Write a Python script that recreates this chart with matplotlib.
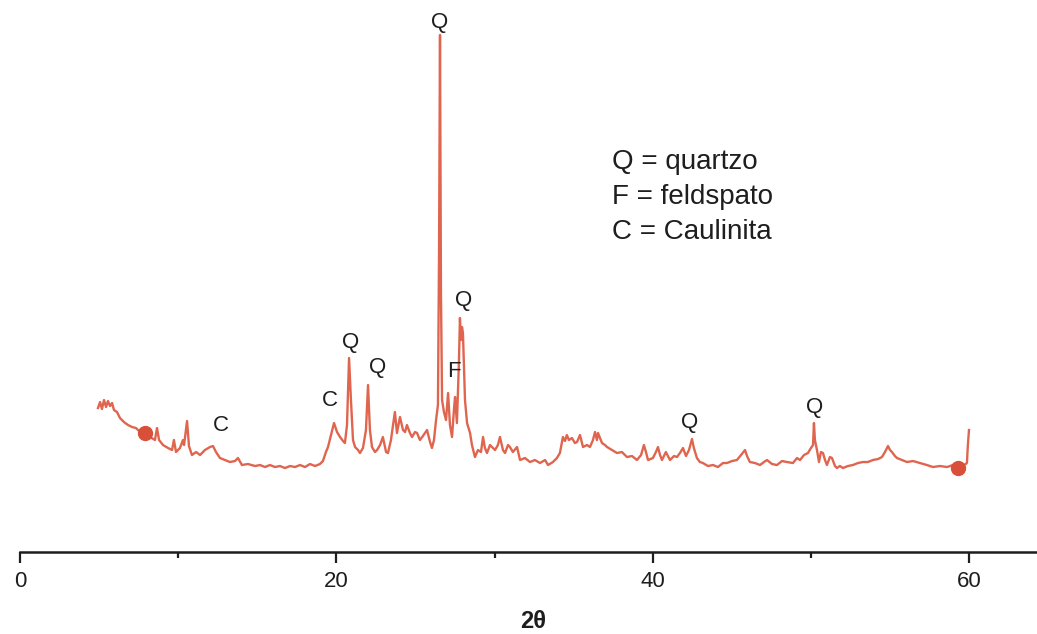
import matplotlib.pyplot as plt
from matplotlib.ticker import MultipleLocator

plt.rcParams['font.family'] = ['Liberation Sans', 'DejaVu Sans']

# 2theta (degrees) and intensity (arbitrary units)
two_theta = [
    4.93, 5.06, 5.18, 5.31, 5.44, 5.56, 5.69, 5.82, 5.94, 6.13, 6.32, 6.57, 6.83, 7.08, 7.33,
    7.59, 7.90, 8.22, 8.53, 8.66, 8.79, 9.04, 9.36, 9.61, 9.73, 9.86, 10.11, 10.30, 10.37, 10.56,
    10.68, 10.87, 11.13, 11.38, 11.69, 12.01, 12.20, 12.39, 12.64, 12.96, 13.27, 13.59, 13.78, 14.03,
    14.41, 14.86, 15.17, 15.49, 15.80, 16.12, 16.43, 16.75, 17.07, 17.38, 17.70, 18.02, 18.33, 18.65,
    18.96, 19.15, 19.34, 19.47, 19.66, 19.85, 20.04, 20.23, 20.42, 20.54, 20.67, 20.80, 20.92, 21.05,
    21.18, 21.37, 21.49, 21.68, 21.87, 22.00, 22.12, 22.25, 22.44, 22.57, 22.76, 22.94, 23.14, 23.26,
    23.45, 23.58, 23.70, 23.83, 24.02, 24.21, 24.34, 24.46, 24.65, 24.78, 24.97, 25.10, 25.28, 25.47,
    25.73, 25.92, 26.04, 26.17, 26.30, 26.42, 26.49, 26.55, 26.61, 26.68, 26.80, 26.93, 27.06, 27.18,
    27.31, 27.43, 27.50, 27.62, 27.75, 27.81, 27.88, 27.94, 28.00, 28.07, 28.13, 28.26, 28.45, 28.57,
    28.76, 28.95, 29.14, 29.27, 29.39, 29.52, 29.71, 29.84, 30.03, 30.21, 30.34, 30.53, 30.66, 30.85,
    30.97, 31.16, 31.42, 31.61, 31.92, 32.24, 32.55, 32.87, 33.19, 33.38, 33.69, 33.94, 34.13, 34.32,
    34.45, 34.57, 34.70, 34.89, 35.08, 35.21, 35.40, 35.59, 35.84, 36.03, 36.22, 36.35, 36.47, 36.54,
    36.79, 36.98, 37.11, 37.42, 37.74, 38.05, 38.37, 38.69, 39.00, 39.26, 39.44, 39.57, 39.70, 40.01,
    40.20, 40.33, 40.46, 40.58, 40.83, 41.09, 41.34, 41.53, 41.72, 41.91, 42.10, 42.29, 42.48, 42.60,
    42.79, 42.98, 43.17, 43.49, 43.81, 44.12, 44.44, 44.69, 45.01, 45.32, 45.58, 45.83, 45.96, 46.14,
    46.46, 46.78, 47.03, 47.22, 47.54, 47.85, 48.17, 48.48, 48.86, 49.12, 49.31, 49.56, 49.81, 50.00,
    50.13, 50.19, 50.25, 50.38, 50.51, 50.63, 50.76, 50.89, 51.01, 51.20, 51.33, 51.52, 51.64, 51.83,
    52.02, 52.34, 52.65, 52.97, 53.29, 53.60, 53.92, 54.24, 54.49, 54.68, 54.87, 55.00, 55.12, 55.31,
    55.44, 55.75, 56.07, 56.45, 56.89, 57.33, 57.71, 58.15, 58.60, 58.98, 59.29, 59.61, 59.86, 59.92,
    59.99,
]
intensity = [
    144, 150, 143, 152, 145, 151, 146, 149, 142, 140, 134, 130, 127, 125, 124,
    120, 119, 115, 112, 124, 112, 107, 104, 102, 112, 100, 104, 112, 107, 131,
    106, 97, 100, 97, 102, 105, 106, 100, 94, 92, 90, 91, 94, 87,
    88, 86, 87, 85, 87, 85, 86, 84, 86, 85, 87, 85, 88, 86,
    88, 91, 100, 105, 117, 129, 120, 115, 111, 109, 127, 194, 152, 112,
    105, 102, 99, 104, 122, 167, 122, 105, 100, 102, 107, 115, 100, 99,
    112, 127, 140, 119, 135, 122, 120, 127, 119, 115, 120, 119, 112, 116,
    122, 110, 104, 112, 132, 147, 300, 517, 260, 152, 140, 132, 159, 127,
    115, 142, 155, 129, 192, 234, 212, 225, 219, 182, 152, 129, 119, 107,
    95, 102, 100, 115, 104, 99, 107, 105, 102, 107, 115, 102, 99, 107,
    105, 100, 105, 92, 94, 90, 92, 89, 92, 87, 90, 94, 99, 115,
    111, 117, 112, 114, 109, 110, 117, 105, 107, 105, 112, 120, 112, 119,
    109, 107, 105, 102, 99, 100, 95, 96, 92, 97, 107, 100, 92, 94,
    100, 105, 97, 92, 100, 92, 96, 95, 99, 104, 96, 102, 113, 104,
    94, 90, 89, 86, 87, 85, 89, 89, 91, 92, 97, 102, 96, 90,
    89, 87, 90, 92, 88, 87, 91, 90, 89, 94, 92, 97, 99, 104,
    107, 129, 112, 102, 90, 100, 99, 92, 87, 95, 94, 86, 84, 86,
    84, 86, 87, 89, 90, 90, 92, 93, 95, 100, 106, 102, 100, 96,
    94, 92, 90, 91, 89, 87, 85, 86, 85, 87, 84, 86, 89, 107,
    122,
]

# round markers sitting on the trace
dot_x = [7.90, 59.29]
dot_y = [119, 84]

# phase labels above the peaks
peak_labels = ['C', 'C', 'Q', 'Q', 'Q', 'F', 'Q', 'Q', 'Q']
label_x = [12.7, 19.6, 20.9, 22.6, 26.55, 27.4, 28.07, 42.35, 50.25]
label_y = [127, 152, 210, 185, 530, 181, 252, 130, 145]

legend_lines = ['Q = quartzo', 'F = feldspato', 'C = Caulinita']

fig = plt.figure(figsize=(10.37, 6.34), dpi=100)
ax = fig.add_axes([0.0193, 0.1293, 0.9807, 0.8707])

ax.plot(two_theta, intensity, color='#e0654f', linewidth=1.7)
ax.plot(dot_x, dot_y, 'o', color='#d9503a', markersize=10)

for lab, lx, ly in zip(peak_labels, label_x, label_y):
    ax.text(lx, ly, lab, ha='center', va='center', fontsize=16, color='#1e1e1e')

for i, line in enumerate(legend_lines):
    ax.text(37.4, 390 - i * 35, line, ha='left', va='center', fontsize=20, color='#1e1e1e')

ax.set_xlim(0, 64.29)
ax.set_ylim(0, 552)

for side in ['top', 'right', 'left']:
    ax.spines[side].set_visible(False)
ax.spines['bottom'].set_linewidth(1.8)
ax.spines['bottom'].set_color('#1e1e1e')

ax.xaxis.set_major_locator(MultipleLocator(20))
ax.xaxis.set_minor_locator(MultipleLocator(10))
ax.tick_params(axis='x', which='major', direction='out', length=8, width=1.6,
               labelsize=16, pad=6, colors='#1e1e1e')
ax.tick_params(axis='x', which='minor', direction='out', length=4, width=1.6, colors='#1e1e1e')
ax.set_yticks([])

fig.text(533 / 1037, 1 - 622 / 634, '2θ', ha='center', va='center', fontsize=17,
         fontweight='bold', color='#1e1e1e')

fig.savefig('out.png', dpi=100)
